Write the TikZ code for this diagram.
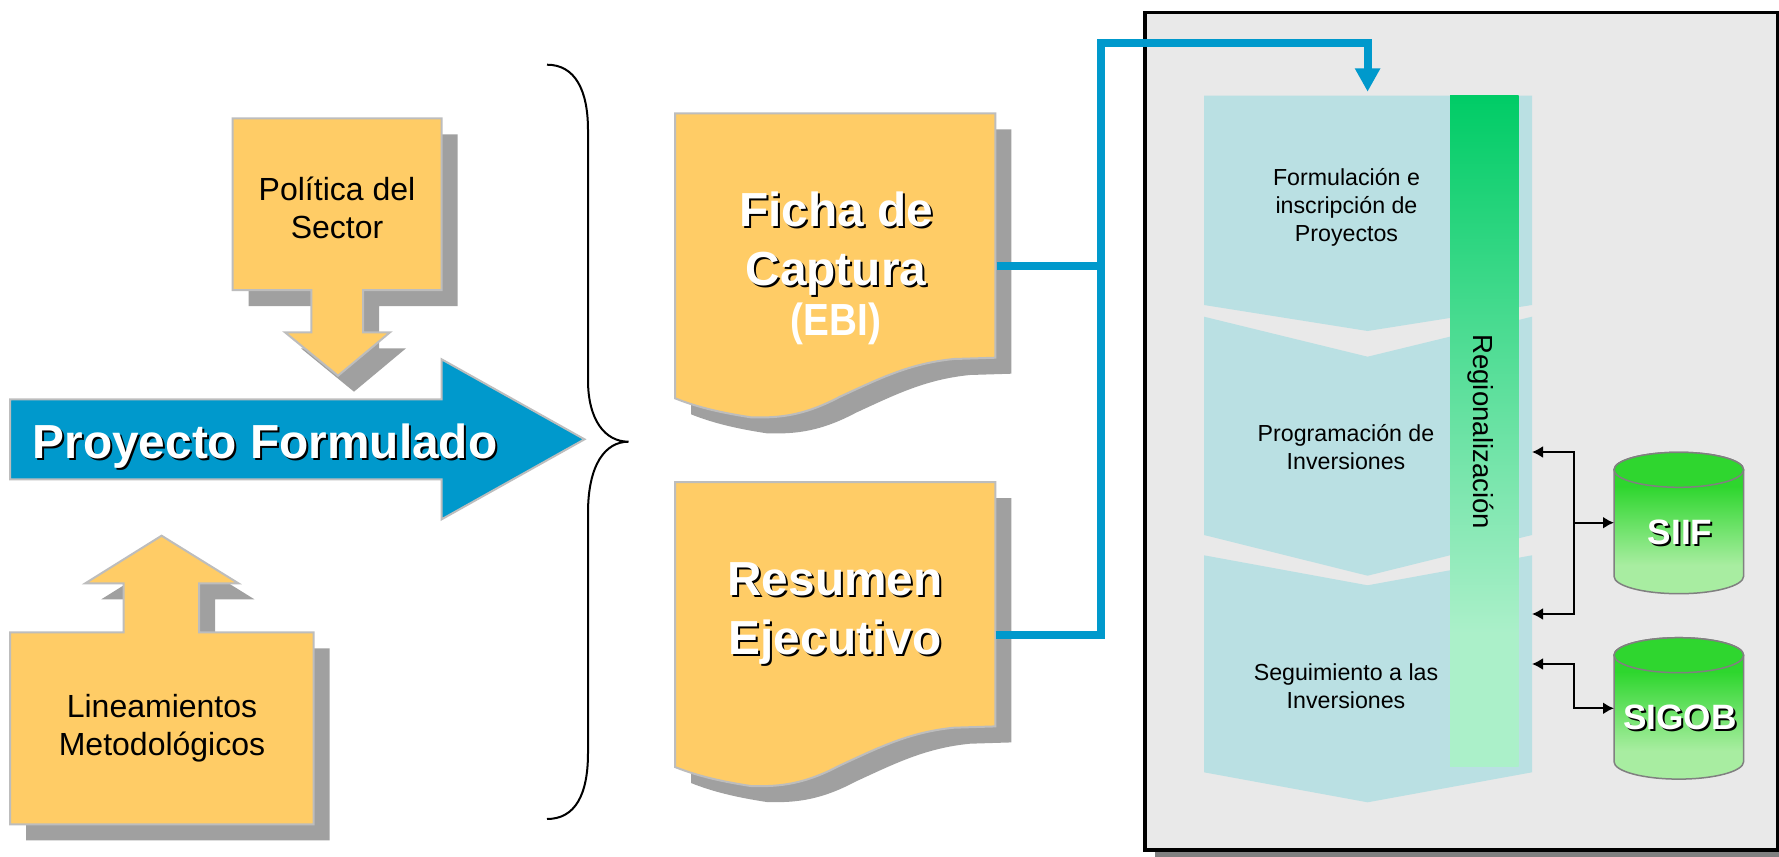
\documentclass[tikz,border=0pt]{standalone}
\usepackage{fontspec}
\usepackage{graphicx}
\setmainfont{Liberation Sans}
\usetikzlibrary{positioning, arrows.meta}
\definecolor{boxorange}{HTML}{FFCC66}
\definecolor{boxedge}{HTML}{BDBDBD}
\definecolor{boxshadow}{HTML}{A0A0A0}
\definecolor{flowblue}{HTML}{0099CC}
\definecolor{panelgray}{HTML}{E9E9E9}
\definecolor{panelshadow}{HTML}{808080}
\definecolor{chevblue}{HTML}{BAE0E3}
\definecolor{cylgreen}{HTML}{2FD62F}
\pgfdeclareverticalshading{cylshade}{100bp}{rgb(0bp)=(.66,.93,.63); rgb(35bp)=(.66,.93,.63); rgb(63bp)=(.18,.84,.18); rgb(100bp)=(.18,.84,.18)}
\pgfdeclareverticalshading{barshade}{100bp}{rgb(0bp)=(.67,.94,.79); rgb(35bp)=(.67,.94,.79); rgb(75bp)=(0,.8,.4); rgb(100bp)=(0,.8,.4)}
\newcommand{\shadowtext}[1]{\leavevmode\rlap{\kern1pt\raisebox{-1pt}{\textcolor{black}{#1}}}#1}
\newcommand{\politicapath}{(232.7,118.3) -- (441.6,118.3) -- (441.6,290) -- (363,290) -- (363,332.3) -- (390,332.3) -- (338,375.7) -- (285,332.3) -- (311.4,332.3) -- (311.4,290) -- (232.7,290) -- cycle}
\newcommand{\lineamientospath}{(10,632.3) -- (123.7,632.3) -- (123.7,583.3) -- (85.3,583.3) -- (161.6,535.7) -- (238.4,583.3) -- (199.2,583.3) -- (199.2,632.3) -- (313.5,632.3) -- (313.5,824.3) -- (10,824.3) -- cycle}
\newcommand{\docpath}{(0,0) -- (320.4,0) -- (320.4,244.4) -- (279,245.7) .. controls (235,250) and (205,265) .. (165,283.4) .. controls (130,302) and (105,305) .. (75.7,304) .. controls (50,300) and (25,295) .. (0,285) -- cycle}
\newcommand{\cylpath}{(-64.8,17.5) .. controls (-64.8,7.8) and (-35.8,0) .. (0,0) .. controls (35.8,0) and (64.8,7.8) .. (64.8,17.5) -- (64.8,124) .. controls (64.8,133.6) and (35.8,141.4) .. (0,141.4) .. controls (-35.8,141.4) and (-64.8,133.6) .. (-64.8,124) -- cycle}
\begin{document}
\begin{tikzpicture}[x=0.5pt,y=-0.5pt]
	\tikzstyle{orangeshape}=[fill=boxorange,draw=boxedge,line width=1pt,line join=miter]
	\tikzstyle{blackbig}=[text=black,align=center,inner sep=0pt,font=\fontsize{16pt}{19pt}\selectfont]
	\tikzstyle{whitebig}=[text=white,align=center,inner sep=0pt,font=\fontsize{23.9pt}{29.5pt}\selectfont\bfseries]
	\tikzstyle{chevtext}=[text=black,align=center,inner sep=0pt,font=\fontsize{11.6pt}{14pt}\selectfont]
	\tikzstyle{cyltext}=[text=white,inner sep=0pt,minimum width=64.8pt,font=\fontsize{17.6pt}{21pt}\selectfont\bfseries]
	\tikzstyle{bluelink}=[flowblue,line width=4pt,line join=miter]
	\tikzstyle{smalllink}=[black,line width=1pt,{Latex[length=5.5pt,width=6pt]}-]
	\useasboundingbox (0,0) rectangle (1779,857);
	\fill[white] (0,0) rectangle (1779,857);

	\fill[panelshadow] (1155,840) rectangle (1779,857);
	\draw[black,fill=panelgray,line width=1.75pt] (1145.2,12.5) rectangle (1778,850);

	\fill[chevblue] (1204,95.7) -- (1532,95.7) -- (1532,305) -- (1367.6,331) -- (1204,305) -- cycle;
	\fill[chevblue] (1204,316.7) -- (1367.6,356.7) -- (1532,316.7) -- (1532,535) -- (1367.6,575.7) -- (1204,535) -- cycle;
	\fill[chevblue] (1204,555.3) -- (1367.6,585.3) -- (1532,555.3) -- (1532,772.3) -- (1367.6,802.3) -- (1204,772.3) -- cycle;
	\shade[shading=barshade] (1450,95.7) rectangle (1518.5,766.7);

	\node[chevtext](formulacion) at (1346.5,207.5) {Formulación e\\inscripción de\\Proyectos};
	\node[chevtext](programacion) at (1346,447) {Programación de\\Inversiones};
	\node[chevtext](seguimiento) at (1346,686) {Seguimiento a las\\Inversiones};
	\node[text=black,inner sep=0pt,rotate=-90,font=\fontsize{13.8pt}{16pt}\selectfont](regional) at (1481,431.7) {Regionalización};

	\foreach \cy in {452.3,637.7}{
		\draw[gray,line width=0.75pt,shading=cylshade,shade] [shift={(1678.8,\cy)}] \cylpath;
		\draw[gray,fill=cylgreen,line width=0.75pt] (1678.8,\cy+17.5) ellipse [x radius=64.8,y radius=17.5];
	}
	\node[cyltext](siif) at (1680,533) {\shadowtext{SIIF}};
	\node[cyltext](sigob) at (1680,718) {\shadowtext{SIGOB}};

	\coordinate (progin) at (1532,452);
	\coordinate (segin) at (1532,614);
	\coordinate (segintwo) at (1532,664);
	\coordinate (siifjoin) at (1573.6,522.7);
	\coordinate (sigobjoin) at (1573.6,708.3);
	\coordinate (siifend) at (1614,522.7);
	\coordinate (sigobend) at (1614,708.3);
	\draw[smalllink] (progin) -| (siifjoin);
	\draw[smalllink] (segin) -| (siifjoin);
	\draw[smalllink,-{Latex[length=5.5pt,width=6pt]}] (siifjoin) -- (siifend);
	\draw[smalllink,{Latex[length=5.5pt,width=6pt]}-{Latex[length=5.5pt,width=6pt]}] (segintwo) -| (sigobjoin) -- (sigobend);

	\fill[boxshadow,shift={(16,16)}] \politicapath;
	\draw[orangeshape] \politicapath;
	\node[blackbig](politica) at (337,208) {Política del\\Sector};

	\fill[boxshadow,shift={(16,16)}] \lineamientospath;
	\draw[orangeshape] \lineamientospath;
	\node[blackbig](lineamientos) at (162,728) {Lineamientos\\Metodológicos};

	\draw[fill=flowblue,draw=boxedge,line width=1pt] (10,399.3) -- (441.6,399.3) -- (441.6,359.3) -- (584.5,439.3) -- (441.6,519.3) -- (441.6,479.3) -- (10,479.3) -- cycle;
	\node[whitebig,anchor=base](proyecto) at (265,458.5) {\shadowtext{Proyecto Formulado}};

	\draw[black,line width=1pt] (547,64.7) .. controls (575,64.7) and (588,90) .. (588,130) -- (588,380) .. controls (588,420) and (605,441.7) .. (628.5,441.7) .. controls (605,441.7) and (588,465) .. (588,513) -- (588,753) .. controls (588,795) and (575,819) .. (547,819);

	\foreach \dy in {113.3,482}{
		\fill[boxshadow,shift={(691,\dy+16)}] \docpath;
		\draw[orangeshape,shift={(675,\dy)}] \docpath;
	}
	\node[whitebig,minimum width=160.2pt](ficha) at (836,268) {\shadowtext{Ficha de}\\\shadowtext{Captura}\\[-4.5pt]\scalebox{.86}[1]{\fontsize{22.5pt}{24pt}\selectfont (EBI)}};
	\node[whitebig,minimum width=160.2pt](resumen) at (835,614.5) {\shadowtext{Resumen}\\\shadowtext{Ejecutivo}};

	\coordinate (busficha) at (1101.4,265.7);
	\coordinate (busresumen) at (1101.4,634.7);
	\coordinate (bustop) at (1101.4,43.3);
	\coordinate (chevin) at (1367.6,91.7);
	\draw[bluelink] (ficha.east |- busficha) -- (busficha);
	\draw[bluelink,-{Triangle[length=11.7pt,width=12pt]}] (resumen.east |- busresumen) -- (busresumen) -- (bustop) -| (chevin);
\end{tikzpicture}
\end{document}
